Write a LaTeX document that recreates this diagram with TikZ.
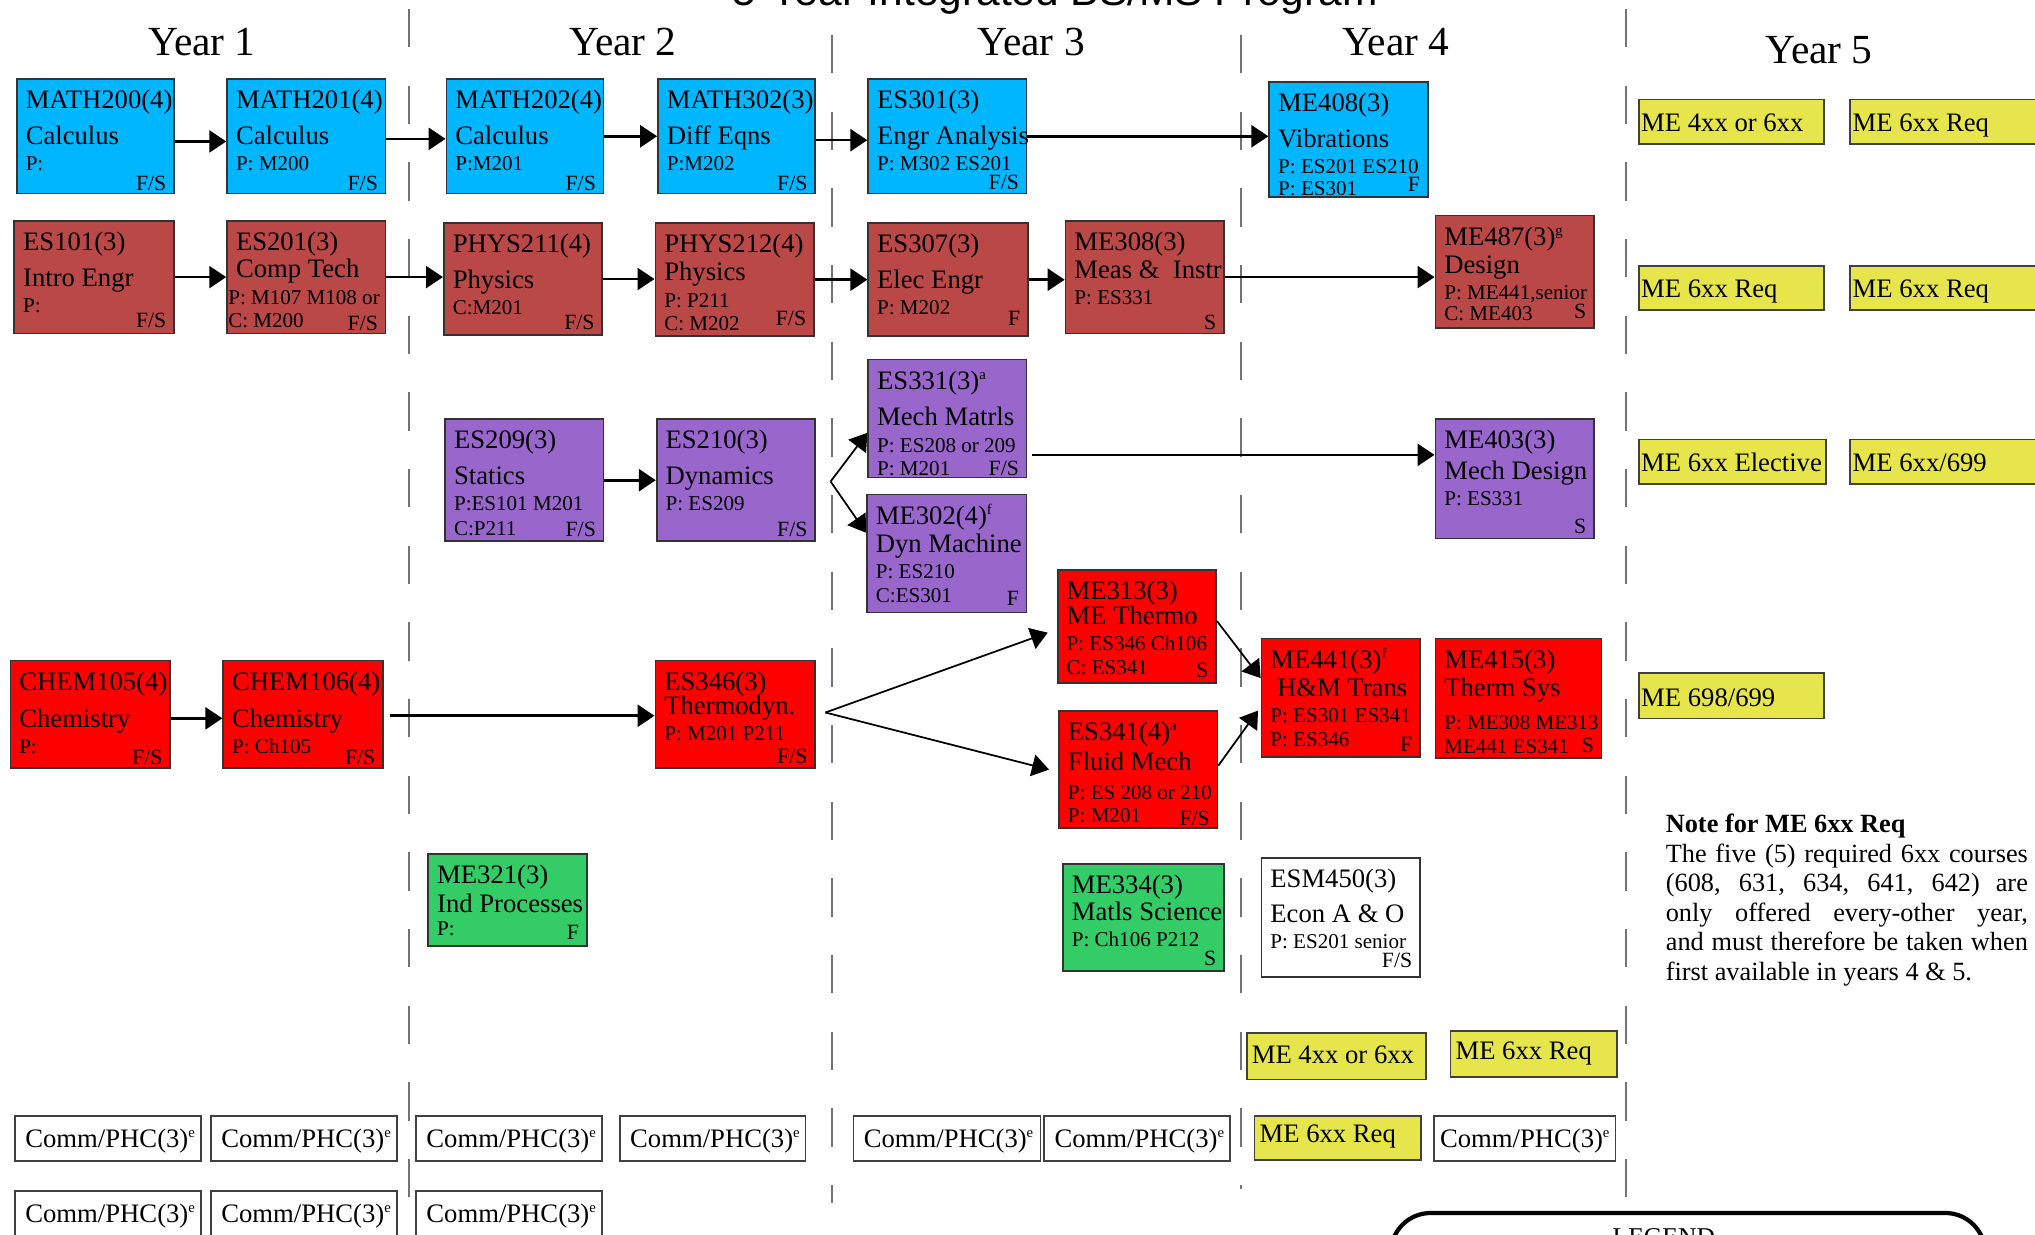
\documentclass[tikz,border=0pt]{standalone}
\usepackage{fontspec}
\setmainfont{Liberation Serif}
\newfontfamily\titlefont{Liberation Sans}
\usetikzlibrary{arrows.meta}
\usetikzlibrary{calc}

\definecolor{skyc}{RGB}{0,183,255}
\definecolor{brick}{RGB}{185,72,70}
\definecolor{lilac}{RGB}{153,102,204}
\definecolor{redc}{RGB}{255,0,0}
\definecolor{greenc}{RGB}{51,204,102}
\definecolor{yelc}{RGB}{230,230,76}

\newcommand{\cttl}[1]{\fontsize{7.6pt}{9pt}\selectfont #1\par}
\newcommand{\csub}[2][10.2pt]{\fontsize{7.6pt}{#1}\selectfont #2\par}
\newcommand{\cpre}[2][7.5pt]{\fontsize{6pt}{#1}\selectfont #2\par}
\newcommand{\fn}[1]{\textsuperscript{\fontsize{4.2pt}{5pt}\selectfont #1}}

\tikzset{
  crsbox/.style={draw=black!80, line width=0.5pt, inner sep=0pt, rectangle},
  crsbody/.style={anchor=base west, inner sep=0pt, font=\fontsize{7.6pt}{9pt}\selectfont},
  crsterm/.style={anchor=base east, inner sep=0pt, font=\fontsize{6.2pt}{7pt}\selectfont},
  yelbox/.style={draw=black!75, line width=0.5pt, fill=yelc, inner sep=0pt},
  commbox/.style={draw=black!75, line width=0.5pt, fill=white, inner sep=0pt},
  boxtext/.style={anchor=base west, inner sep=0pt, font=\fontsize{7.6pt}{9pt}\selectfont},
  yearlbl/.style={anchor=base, font=\fontsize{11.8pt}{14pt}\selectfont},
  yearsep/.style={black!55, line width=0.6pt, dash pattern=on 3.84mm off 3.84mm},
  arr/.style={-{Triangle[length=1.7mm,width=2.2mm]}, line width=0.75pt},
  thinarr/.style={-{Triangle[length=1.7mm,width=2.2mm]}, line width=0.5pt}
}

\newcommand{\coursebox}[9]{%
  \node[crsbox, fill=#2, minimum width={(#5-#3)*0.13mm}, minimum height={(#6-#4)*0.13mm}] (#1) at ({(#3+#5)/2},{(#4+#6)/2}) {};
  \node[crsbody] (#1-t) at ([shift={(7,23.5)}]#1.north west) {\parbox[t]{40mm}{#7}};
  \node[crsterm] (#1-f) at ([shift={(-6,-#9)}]#1.south east) {#8};}

\newcommand{\plainbox}[9]{%
  \node[#2, minimum width={(#5-#3)*0.13mm}, minimum height={(#6-#4)*0.13mm}, anchor=north west] (#1) at (#3,#4) {};
  \node[boxtext] (#1-t) at ([shift={(#8,-#9)}]#1.south west) {#7};}

\begin{document}
\begin{tikzpicture}[x=0.13mm, y=-0.13mm]
\useasboundingbox (0,0) rectangle (1568,951);

\node[font=\titlefont\fontsize{12.1pt}{14pt}\selectfont, anchor=base] (title) at (813,4) {5-Year Integrated BS/MS Program};
\node[yearlbl] (yr1) at (155.6,42.4) {Year 1};
\node[yearlbl] (yr2) at (480,42.4) {Year 2};
\node[yearlbl] (yr3) at (794.5,42.4) {Year 3};
\node[yearlbl] (yr4) at (1075.5,42.4) {Year 4};
\node[yearlbl] (yr5) at (1401.6,49.3) {Year 5};

\draw[yearsep] (315,7) -- (315,922);
\draw[yearsep] (641,27) -- (641,927);
\draw[yearsep] (956,27) -- (956,916);
\draw[yearsep] (1253,7) -- (1253,922);

\coursebox{m200}{skyc}{13}{61}{134}{149}{\cttl{MATH200(4)}\csub{Calculus}\cpre{P:}}{F/S}{3}
\coursebox{m201}{skyc}{175}{61}{297}{149}{\cttl{MATH201(4)}\csub{Calculus}\cpre{P: M200}}{F/S}{3}
\coursebox{m202}{skyc}{344}{61}{465}{149}{\cttl{MATH202(4)}\csub{Calculus}\cpre{P:M201}}{F/S}{3}
\coursebox{m302}{skyc}{507}{61}{628}{149}{\cttl{MATH302(3)}\csub{Diff Eqns}\cpre{P:M202}}{F/S}{3}
\coursebox{es301}{skyc}{669}{61}{791}{149}{\cttl{ES301(3)}\csub{Engr Analysis}\cpre{P: M302 ES201}}{F/S}{4}
\coursebox{me408}{skyc}{978}{63}{1100}{152}{\cttl{ME408(3)}\csub{Vibrations}\cpre{P: ES201 ES210}\cpre[6.2pt]{P: ES301}}{F}{5.5}

\coursebox{es101}{brick}{11}{170}{134}{257}{\cttl{ES101(3)}\csub{Intro Engr}\cpre{P:}}{F/S}{5}
\coursebox{es201}{brick}{175}{170}{297}{257}{\cttl{ES201(3)}\csub[7.9pt]{Comp Tech}\cpre{\hspace*{-2.2pt}P: M107 M108 or}\cpre[6.7pt]{\hspace*{-2.2pt}C: M200}}{F/S}{3}
\coursebox{phys211}{brick}{342}{172}{464}{258}{\cttl{PHYS211(4)}\csub{Physics}\cpre{C:M201}}{F/S}{5}
\coursebox{phys212}{brick}{505}{172}{627}{259}{\cttl{PHYS212(4)}\csub[8pt]{Physics}\cpre{P: P211}\cpre[6.7pt]{C: M202}}{F/S}{8.5}
\coursebox{es307}{brick}{669}{172}{792}{259}{\cttl{ES307(3)}\csub{Elec Engr}\cpre{P: M202}}{F}{9}
\coursebox{me308}{brick}{821}{170}{943}{257}{\cttl{ME308(3)}\csub[8pt]{Meas \&~~Instr}\cpre{P: ES331}}{S}{4}
\coursebox{me487}{brick}{1106}{166}{1228}{253}{\cttl{ME487(3)\fn{g}}\csub[8pt]{Design}\cpre{P: ME441,senior}\cpre[6pt]{C: ME403}}{S}{8}

\coursebox{es209}{lilac}{343}{323}{465}{417}{\cttl{ES209(3)}\csub{Statics}\cpre{P:ES101 M201}\cpre[6.9pt]{C:P211}}{F/S}{4}
\coursebox{es210}{lilac}{506}{323}{628}{417}{\cttl{ES210(3)}\csub{Dynamics}\cpre{P: ES209}}{F/S}{4}
\coursebox{es331}{lilac}{669}{277}{791}{368}{\cttl{ES331(3)\fn{a}}\csub[10.5pt]{Mech Matrls}\cpre{P: ES208 or 209}\cpre[6.5pt]{P: M201}}{F/S}{2.5}
\coursebox{me302}{lilac}{668}{381}{791}{472}{\cttl{ME302(4)\fn{f}}\csub[8.1pt]{Dyn Machine}\cpre{P: ES210}\cpre[6.7pt]{C:ES301}}{F}{6.5}
\coursebox{me403}{lilac}{1106}{323}{1228}{415}{\cttl{ME403(3)}\csub[8.6pt]{Mech Design}\cpre{P: ES331}}{S}{4.6}

\coursebox{chem105}{redc}{8}{509}{131}{592}{\cttl{CHEM105(4)}\csub[10.5pt]{Chemistry}\cpre{P:}}{F/S}{4}
\coursebox{chem106}{redc}{172}{509}{295}{592}{\cttl{CHEM106(4)}\csub[10.5pt]{Chemistry}\cpre{P: Ch105}}{F/S}{4}
\coursebox{es346}{redc}{505}{509}{628}{592}{\cttl{ES346(3)}\csub[6.9pt]{Thermodyn.}\cpre{P: M201 P211}}{F/S}{4.5}
\coursebox{me313}{redc}{815}{439}{937}{526}{\cttl{ME313(3)}\csub[7.1pt]{ME Thermo}\cpre{P: ES346 Ch106}\cpre[6.8pt]{C: ES341}}{S}{5}
\coursebox{es341}{redc}{816}{548}{938}{638}{\cttl{ES341(4)\fn{a}}\csub[8.5pt]{Fluid Mech}\cpre[8.1pt]{P: ES 208 or 210}\cpre[6.7pt]{P: M201}}{F/S}{2.5}
\coursebox{me441}{redc}{972}{492}{1094}{583}{\cttl{ME441(3)\fn{f}}\csub[8.1pt]{\ H\&M Trans}\cpre{P: ES301 ES341}\cpre[6.7pt]{P: ES346}}{F}{5}
\coursebox{me415}{redc}{1106}{492}{1234}{584}{\cttl{ME415(3)}\csub[8.1pt]{Therm Sys}\cpre[9.5pt]{P: ME308 ME313}\cpre[6.7pt]{ME441 ES341}}{S}{4.6}

\coursebox{me321}{greenc}{330}{658}{452}{729}{\cttl{ME321(3)}\csub[8.1pt]{Ind Processes}\cpre[6.8pt]{P:}}{F}{6}
\coursebox{me334}{greenc}{819}{666}{943}{748}{\cttl{ME334(3)}\csub[7.6pt]{Matls Science}\cpre{P: Ch106 P212}}{S}{5}
\coursebox{esm450}{white}{972}{661}{1094}{753}{\cttl{ESM450(3)}\csub[10pt]{Econ A \& O}\cpre{P: ES201 senior}}{F/S}{8}

\plainbox{y5a}{yelbox}{1262}{76}{1405}{110}{ME 4xx or 6xx}{2}{10}
\plainbox{y5b}{yelbox}{1425}{76}{1600}{110}{ME 6xx Req}{2}{10}
\plainbox{y5c}{yelbox}{1262}{204}{1405}{238}{ME 6xx Req}{2}{10}
\plainbox{y5d}{yelbox}{1425}{204}{1600}{238}{ME 6xx Req}{2}{10}
\plainbox{y5e}{yelbox}{1262}{338}{1406}{372}{ME 6xx Elective}{2}{10}
\plainbox{y5f}{yelbox}{1425}{338}{1600}{372}{ME 6xx/699}{2}{10}
\plainbox{y5g}{yelbox}{1262}{518}{1405}{553}{ME 698/699}{2}{10}
\plainbox{y4a}{yelbox}{960}{795}{1098}{831}{ME 4xx or 6xx}{4}{13}
\plainbox{y4b}{yelbox}{1117}{794}{1245}{829}{ME 6xx Req}{4}{14}
\plainbox{y4c}{yelbox}{966}{859}{1094}{893}{ME 6xx Req}{4}{14}

\plainbox{c1}{commbox}{11}{859}{154}{894}{Comm/PHC(3)\fn{e}}{8}{11.5}
\plainbox{c2}{commbox}{162}{859}{305}{894}{Comm/PHC(3)\fn{e}}{8}{11.5}
\plainbox{c3}{commbox}{320}{859}{463}{894}{Comm/PHC(3)\fn{e}}{8}{11.5}
\plainbox{c4}{commbox}{477}{859}{620}{894}{Comm/PHC(3)\fn{e}}{8}{11.5}
\plainbox{c5}{commbox}{657}{859}{801}{894}{Comm/PHC(3)\fn{e}}{8}{11.5}
\plainbox{c6}{commbox}{804}{859}{947}{894}{Comm/PHC(3)\fn{e}}{8}{11.5}
\plainbox{c7}{commbox}{1104}{859}{1244}{894}{Comm/PHC(3)\fn{e}}{5}{11.5}
\plainbox{c8}{commbox}{11}{917}{154}{952}{Comm/PHC(3)\fn{e}}{8}{11.5}
\plainbox{c9}{commbox}{162}{917}{305}{952}{Comm/PHC(3)\fn{e}}{8}{11.5}
\plainbox{c10}{commbox}{320}{917}{463}{952}{Comm/PHC(3)\fn{e}}{8}{11.5}

\draw[arr] ([shift={(0,4)}]m200.east) -- ([shift={(0,4)}]m201.west);
\draw[arr] ([shift={(0,2)}]m201.east) -- ([shift={(0,2)}]m202.west);
\draw[arr] (m202.east) -- (m302.west);
\draw[arr] ([shift={(0,3)}]m302.east) -- ([shift={(0,3)}]es301.west);
\draw[arr] (es301.east) -- (es301.east -| me408.west);

\draw[arr] (es101.east) -- (es201.west);
\draw[arr] (es201.east) -- (es201.east -| phys211.west);
\draw[arr] (phys211.east) -- (phys211.east -| phys212.west);
\draw[arr] (phys212.east) -- (phys212.east -| es307.west);
\draw[arr] (es307.east) -- (es307.east -| me308.west);
\draw[arr] (me308.east) -- (me308.east -| me487.west);

\draw[arr] (es209.east) -- (es210.west);
\coordinate (dyn-split) at (640,371);
\draw[thinarr] (dyn-split) -- ([shift={(0,11)}]es331.west);
\draw[thinarr] (dyn-split) -- ([shift={(0,-16)}]me302.west);
\draw[arr, shorten <=0.5mm] ([shift={(0,28)}]es331.east) -- ([shift={(0,28)}]es331.east -| me403.west);

\draw[arr] ([shift={(0,3)}]chem105.east) -- ([shift={(0,3)}]chem106.west);
\draw[arr, shorten <=0.65mm] ([shift={(0,1)}]chem106.east) -- ([shift={(0,1)}]es346.west);
\coordinate (thermo-split) at (636,549);
\draw[thinarr] (thermo-split) -- ([shift={(-7,5)}]me313.west);
\draw[thinarr] (thermo-split) -- ([shift={(-7,0)}]es341.west);
\draw[thinarr] ([shift={(0,-4)}]me313.east) -- ([shift={(0,-15)}]me441.west);
\draw[thinarr] ([shift={(0,-3)}]es341.east) -- ([shift={(-2,10)}]me441.west);

\node[anchor=north west, inner sep=0pt, text width=36.27mm, align=justify, font=\fontsize{7.5pt}{8.4pt}\selectfont] (note) at (1283,627)
  {\tolerance=10000\hyphenpenalty=10000{\bfseries Note for ME 6xx Req}\\ The five (5) required 6xx courses\linebreak (608, 631, 634, 641, 642) are\linebreak only offered every-other year,\linebreak and must therefore be taken when\linebreak first available in years 4 \& 5.};

\node[draw, line width=1.2pt, rounded corners=4mm, minimum width=59.54mm, minimum height=12mm, anchor=north west, inner sep=0pt] (legendbox) at (1070,933) {};
\node[anchor=base, inner sep=0pt, font=\fontsize{7.3pt}{9pt}\selectfont] (legendlbl) at (1282,960) {LEGEND};
\end{tikzpicture}
\end{document}
